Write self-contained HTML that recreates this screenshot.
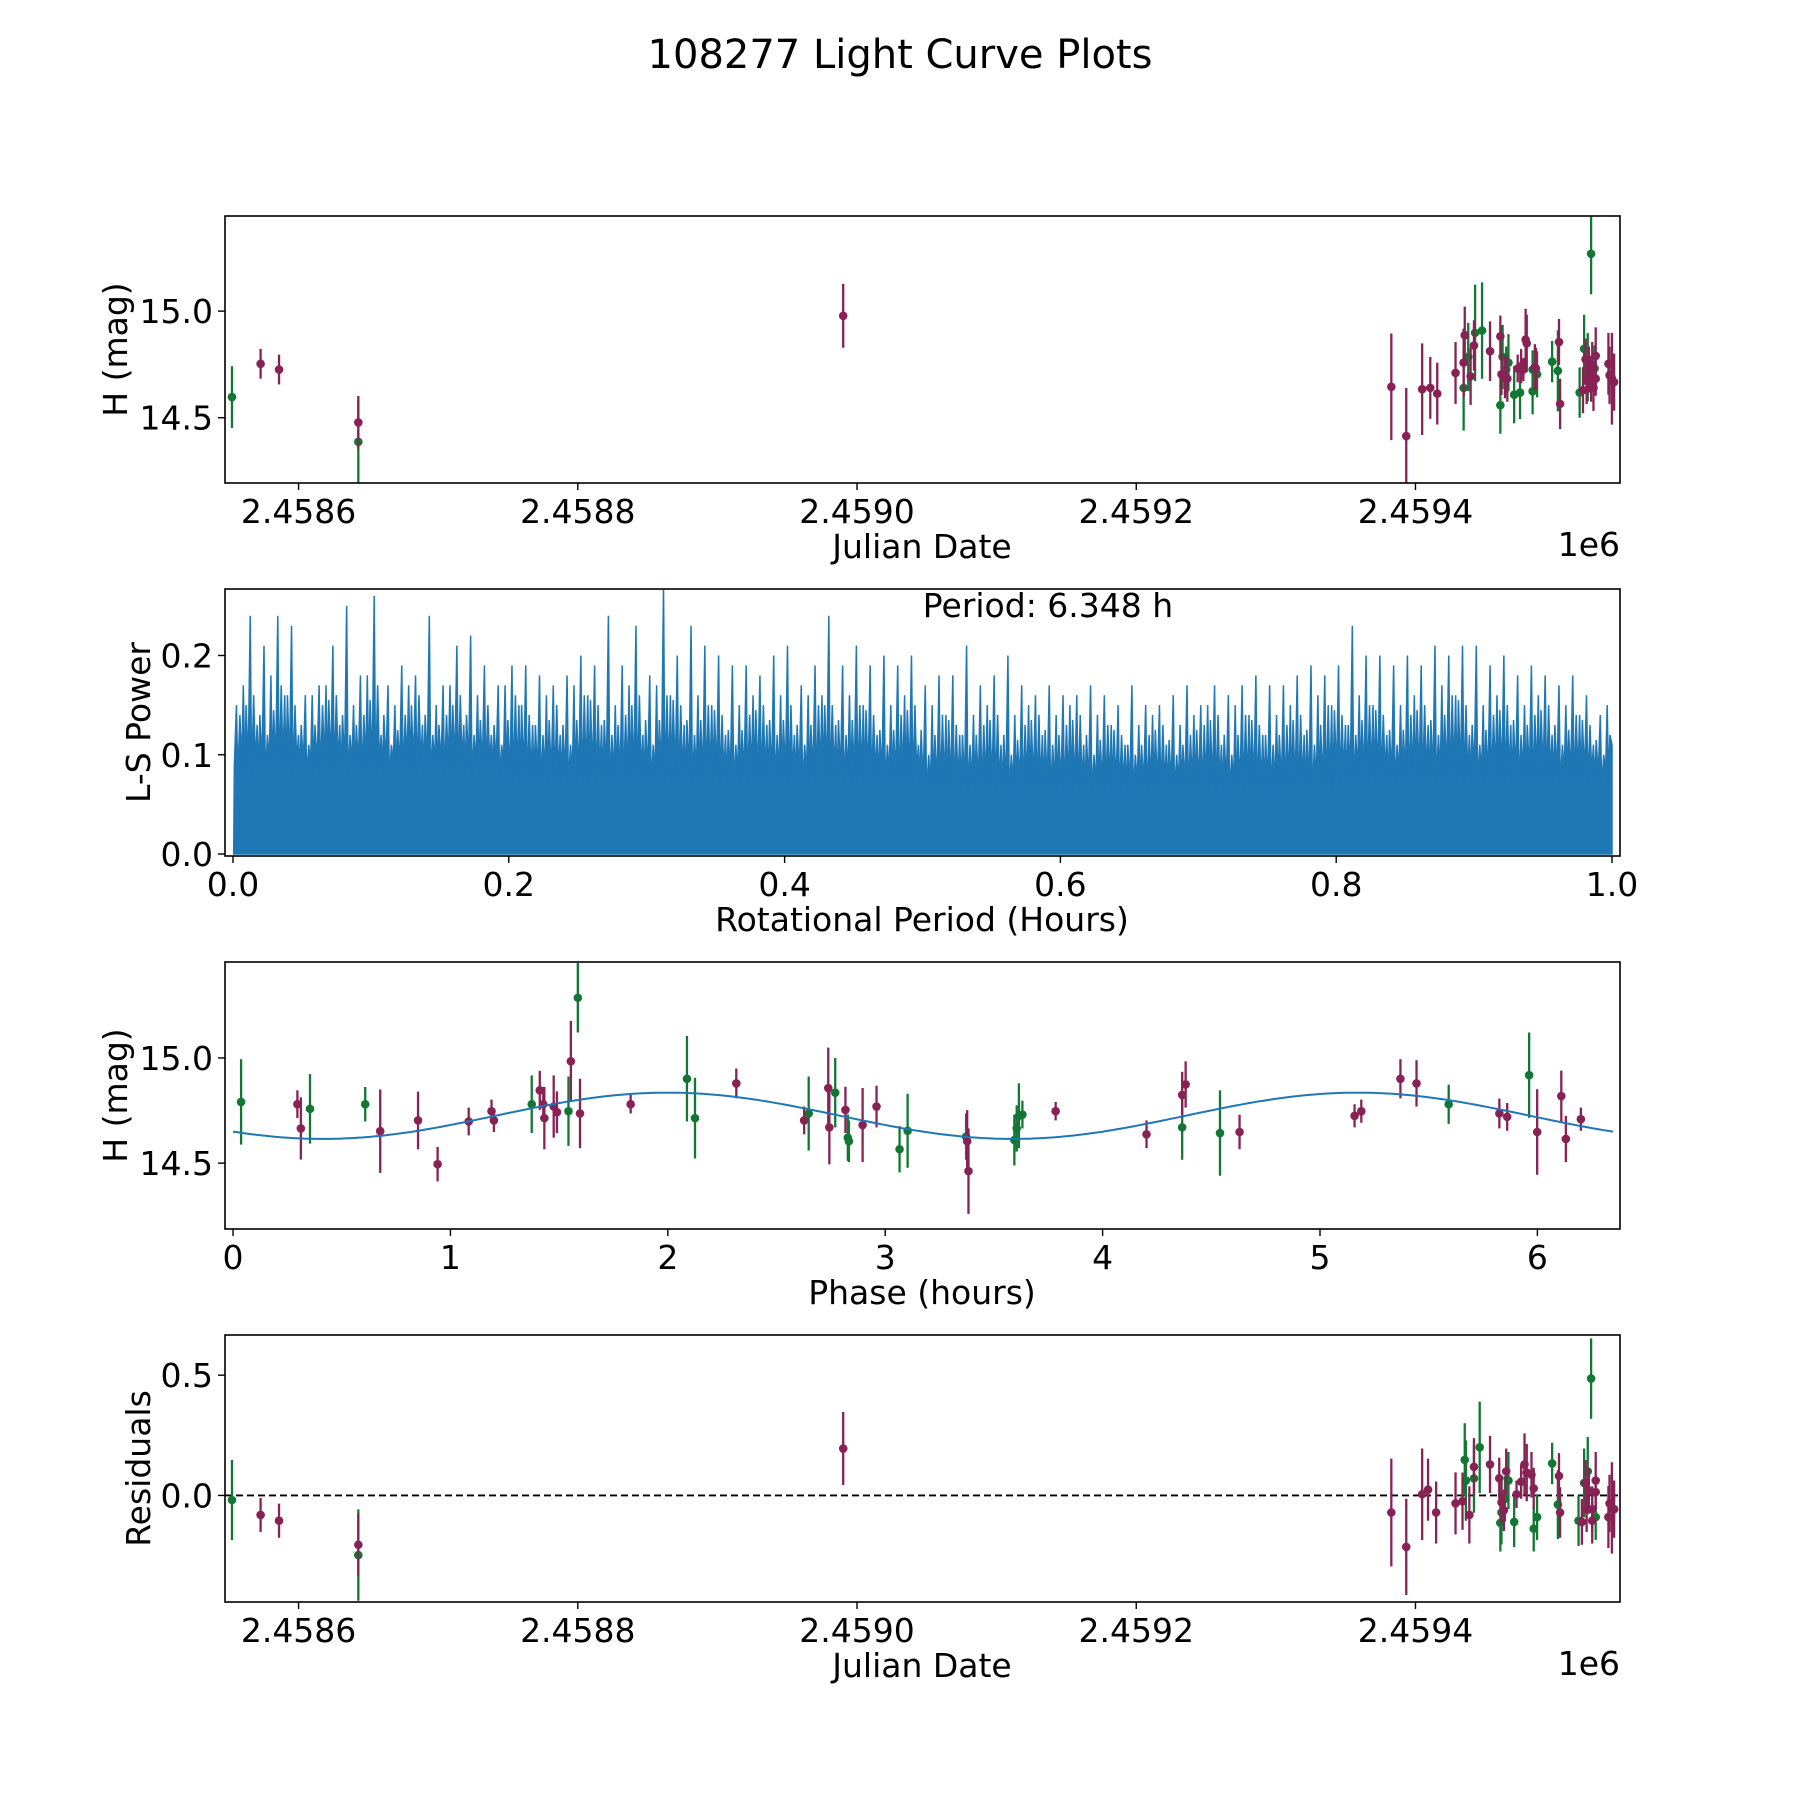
<!DOCTYPE html>
<html><head><meta charset="utf-8"><style>
html,body{margin:0;padding:0;background:#fff;}
svg{display:block;font-family:"DejaVu Sans","Liberation Sans",sans-serif;}
</style></head><body>
<svg id="fig" width="1800" height="1800" viewBox="0 0 1800 1800" xmlns="http://www.w3.org/2000/svg">
<text x="900" y="68" font-size="40" text-anchor="middle">108277 Light Curve Plots</text>
</svg>
<script>
// ---- Panel 1 data (JD - 2458000) ----
const magJDm = [572.8,586.0,642.8,990.1,1382.7,1393.4,1404.8,1410.6,1415.6,1428.7,1434.5,1435.3,1439.5,1441.9,1453.4,1460.8,1461.6,1464.1,1465.8,1473.2,1475.7,1477.3,1478.9,1479.7,1485.5,1486.3,1502.8,1503.6,1520.0,1521.8,1522.6,1524.2,1525.8,1526.6,1527.5,1529.1,1529.1,1538.2,1539.0,1540.7,1542.3];
const magValm = [14.753,14.726,14.478,14.978,14.645,14.414,14.634,14.640,14.613,14.710,14.758,14.887,14.694,14.839,14.812,14.882,14.704,14.688,14.683,14.731,14.742,14.726,14.866,14.849,14.737,14.731,14.855,14.565,14.629,14.774,14.672,14.726,14.683,14.747,14.640,14.790,14.683,14.753,14.699,14.683,14.667];
const magErrm = [0.07,0.07,0.124,0.15,0.25,0.226,0.215,0.145,0.145,0.145,0.16,0.134,0.134,0.118,0.14,0.097,0.097,0.097,0.108,0.065,0.08,0.054,0.145,0.134,0.108,0.097,0.108,0.118,0.108,0.097,0.108,0.108,0.108,0.108,0.108,0.134,0.08,0.145,0.134,0.215,0.134];
const magJDg = [552.3,642.8,1434.5,1437.8,1442.7,1447.7,1460.8,1462.4,1465.0,1466.6,1470.7,1474.9,1483.9,1483.9,1487.1,1497.9,1502.0,1517.6,1520.8,1523.4,1525.8,1528.3];
const magValg = [14.597,14.387,14.640,14.785,14.898,14.909,14.559,14.785,14.726,14.758,14.608,14.618,14.726,14.624,14.704,14.763,14.720,14.618,14.823,14.737,15.269,14.731];
const magErrg = [0.145,0.194,0.2,0.16,0.226,0.226,0.134,0.15,0.108,0.134,0.134,0.124,0.09,0.108,0.108,0.097,0.19,0.118,0.16,0.16,0.19,0.108];
const jdTicks = [2458600,2458800,2459000,2459200,2459400];
const jdTickLabels = ["2.4586","2.4588","2.4590","2.4592","2.4594"];
// ---- Panel 2 periodogram ----
const lsPeaks = [.15,.24,.21,.24,.23,.16,.17,.21,.25,.18,.26,.17,.19,.18,.24,.17,.21,.22,.19,.17,.19,.19,.18,.17,.18,.20,.19,.24,.19,.23,.18,.27,.20,.23,.21,.20,.19,.19,.18,.20,.21,.17,.19,.24,.19,.21,.19,.20,.19,.20,.17,.18,.18,.21,.17,.18,.20,.17,.16,.17,.16,.16,.17,.16,.15,.17,.15,.15,.16,.17,.15,.17,.16,.17,.18,.17,.17,.18,.19,.18,.19,.23,.20,.20,.19,.20,.19,.21,.20,.21,.21,.19,.20,.18,.19,.18,.17,.18,.16,.14];
const lsMids = [.14,.16,.12,.17,.15,.11,.15,.16,.12,.14,.17,.11,.14,.16,.12,.14,.16,.12,.15,.11,.16,.14,.12,.15,.11,.16,.15,.12,.14,.16,.11,.16,.15,.12,.15,.14,.11,.14,.15,.12,.15,.11,.15,.15,.12,.15,.14,.11,.14,.15,.10,.14,.13,.11,.13,.14,.10,.13,.14,.11,.13,.14,.10,.13,.12,.10,.12,.13,.10,.12,.13,.14,.10,.14,.13,.11,.13,.14,.11,.15,.14,.12,.15,.14,.11,.14,.15,.12,.16,.15,.11,.14,.15,.12,.14,.15,.11,.14,.13,.10];
const lsTroughs = [0.09,0.09,0.08,0.08,0.08,0.07,0.07,0.07,0.08,0.08];
const lsXTicks = [0,0.2,0.4,0.6,0.8,1.0];
const lsYTicks = [0,0.1,0.2];
// ---- Panel 3 phased ----
const phM = [0.296,0.312,0.677,0.851,0.941,1.084,1.189,1.200,1.411,1.427,1.432,1.475,1.490,1.554,1.596,1.829,2.315,2.627,2.738,2.743,2.817,2.896,2.960,3.377,3.383,3.784,4.202,4.366,4.382,4.630,5.159,5.190,5.370,5.444,5.825,5.861,5.999,6.110,6.131,6.200];
const phMagM = [14.780,14.665,14.652,14.703,14.495,14.698,14.747,14.703,14.846,14.780,14.714,14.769,14.742,14.984,14.736,14.780,14.879,14.703,14.857,14.670,14.753,14.681,14.769,14.604,14.462,14.747,14.637,14.824,14.874,14.648,14.725,14.747,14.901,14.879,14.736,14.720,14.648,14.819,14.615,14.709];
const phErrM = [.066,.148,.198,.137,.082,.066,.055,.055,.093,.082,.148,.148,.099,.192,.165,.044,.071,.066,.192,.176,.11,.176,.099,.148,.203,.044,.066,.11,.11,.082,.055,.055,.093,.11,.071,.066,.203,.121,.11,.055];
const phG = [0.037,0.354,0.608,1.374,1.543,1.586,2.088,2.125,2.648,2.770,2.828,2.833,3.066,3.103,3.372,3.594,3.605,3.615,3.631,4.366,4.540,5.592,5.962];
const phMagG = [14.791,14.758,14.780,14.780,14.747,15.286,14.901,14.714,14.736,14.835,14.621,14.604,14.566,14.654,14.626,14.610,14.665,14.725,14.731,14.670,14.643,14.780,14.918];
const phErrG = [.203,.165,.082,.137,.165,.165,.203,.192,.176,.165,.11,.099,.11,.176,.11,.121,.11,.154,.066,.154,.203,.093,.203];
const fitCoef = [14.725, 0.11, 2.0]; // mean, amplitude, phase of max (h)
const fitPeriod = 6.348;
const phXTicks = [0,1,2,3,4,5,6];
const magYTicks = [14.5,15.0];
// ---- Panel 4 residuals ----
const resJDm = [572.8,586.0,642.8,990.1,1382.7,1393.4,1404.8,1409.0,1414.8,1428.7,1433.7,1438.6,1441.9,1453.4,1460.0,1461.6,1463.3,1465.0,1472.4,1475.7,1478.1,1479.7,1483.1,1484.7,1502.8,1503.6,1519.2,1521.8,1522.6,1524.2,1526.6,1526.6,1529.1,1529.1,1538.2,1539.0,1540.7,1542.3];
const resValm = [-0.081,-0.105,-0.205,0.195,-0.071,-0.214,0.005,0.024,-0.071,-0.033,-0.024,-0.081,0.119,0.129,0.071,-0.029,-0.062,0.100,0.005,0.057,0.129,0.095,0.086,0.029,0.081,-0.071,-0.110,0.052,-0.057,0.019,-0.057,-0.105,0.062,0.014,-0.090,-0.033,-0.052,-0.057];
const resErrm = [.071,.071,.129,.152,.224,.2,.19,.129,.129,.129,.119,.119,.119,.119,.086,.086,.086,.095,.057,.071,.129,.119,.095,.086,.095,.105,.095,.095,.095,.095,.095,.095,.119,.071,.129,.119,.19,.119];
const resJDg = [552.3,642.8,1435.3,1436.1,1441.9,1446.0,1460.8,1461.6,1464.1,1466.6,1470.7,1484.7,1487.1,1497.9,1502.0,1516.8,1520.8,1523.4,1525.8,1529.1];
const resValg = [-0.019,-0.248,0.148,0.062,0.071,0.200,-0.114,-0.071,-0.014,0.062,-0.110,-0.138,-0.090,0.133,-0.038,-0.105,0.052,0.100,0.486,-0.090];
const resErrg = [.167,.19,.152,.167,.143,.19,.119,.133,.095,.119,.105,.095,.095,.086,.143,.105,.143,.143,.167,.095];
const resYTicks = [0.0,0.5];

const NS="http://www.w3.org/2000/svg";
const svg=document.getElementById('fig');
const MAROON="#882255", GREEN="#117733", BLUE="#1f77b4";
const L=225, R=1620, H=267, FS=33;
const JD0=2458547.3, JD1=2459546.5;
function mk(tag,attrs,parent){const e=document.createElementNS(NS,tag);for(const k in attrs)e.setAttribute(k,attrs[k]);(parent||svg).appendChild(e);return e;}
function lin(d0,d1,r0,r1){return v=>r0+(v-d0)/(d1-d0)*(r1-r0);}

function axesFrame(g,top){
  const r=mk('rect',{x:L,y:top,width:R-L,height:H,fill:'none',stroke:'#000','stroke-width':1.6},g);
  
  
}
function xTicks(g,top,vals,labels,sx,name){
  vals.forEach((v,i)=>{
    const x=sx(v);
    const t=mk('line',{x1:x,x2:x,y1:top+H,y2:top+H+7,stroke:'#000','stroke-width':1.4},g);
    
    
    const tx=mk('text',{x:x,y:top+H+40,'font-size':FS,'text-anchor':'middle'},g);
    tx.textContent=labels[i];
    
    
  });
}
function yTicks(g,top,vals,labels,sy,name){
  vals.forEach((v,i)=>{
    const y=sy(v);
    const t=mk('line',{x1:L-7,x2:L,y1:y,y2:y,stroke:'#000','stroke-width':1.4},g);
    
    
    const tx=mk('text',{x:L-12,y:y+12,'font-size':FS,'text-anchor':'end'},g);
    tx.textContent=labels[i];
    
    
  });
}
function label(g,text,x,y,rot,name){
  const t=mk('text',{x:x,y:y,'font-size':FS,'text-anchor':'middle',transform:rot?`rotate(-90 ${x} ${y})`:''},g);
  t.textContent=text;
  
  
}
function errPoints(g,xs,ys,es,sx,sy,color,name){
  xs.forEach((xv,i)=>{
    const x=sx(xv);
    const e=mk('line',{x1:x,x2:x,y1:sy(ys[i]-es[i]),y2:sy(ys[i]+es[i]),stroke:color,'stroke-width':2.3},g);
    
    
    const c=mk('circle',{cx:x,cy:sy(ys[i]),r:4.3,fill:color},g);
    
    
  });
}
function clip(id,top){
  const d=mk('clipPath',{id:id});
  mk('rect',{x:L,y:top,width:R-L,height:H},d);
}

// Panel 1
(function(){
  const top=216;
  const g=mk('g',{});
  
  
  clip('c1',top);
  const sx=lin(JD0,JD1,L,R), sy=lin(14.194,15.446,top+H,top);
  const pg=mk('g',{'clip-path':'url(#c1)'},g);
  errPoints(pg,magJDg.map(v=>v+2458000),magValg,magErrg,sx,sy,GREEN,'green-filter');
  errPoints(pg,magJDm.map(v=>v+2458000),magValm,magErrm,sx,sy,MAROON,'maroon-filter');
  axesFrame(g,top);
  xTicks(g,top,jdTicks,jdTickLabels,sx,'x-axis');
  yTicks(g,top,magYTicks,magYTicks.map(v=>v.toFixed(1)),sy,'y-axis');
  label(g,'Julian Date',922,558,false,'x-axis-title');
  label(g,'H (mag)',127,top+H/2,true,'y-axis-title');
  const o=mk('text',{x:R,y:556,'font-size':FS,'text-anchor':'end'},g);o.textContent='1e6';
  
  
})();

// Panel 2
(function(){
  const top=589;
  const g=mk('g',{});
  
  
  clip('c2',top);
  const sx=lin(-0.0058,1.0058,L,R), sy=lin(-0.002,0.267,top+H,top);
  const n=lsPeaks.length, w=1/n;
  let pts=[[sx(0.0005),sy(0)]];
  for(let i=0;i<n;i++){
    const x0=0.0005+i*w*0.999, tr=lsTroughs[Math.floor(i/10)];
    const nx=lsMids[(i+1)%n];
    pts.push([sx(x0+w*0.05),sy(tr)]);
    pts.push([sx(x0+w*0.2),sy(lsPeaks[i])]);
    pts.push([sx(x0+w*0.3),sy(tr*0.85)]);
    pts.push([sx(x0+w*0.45),sy(lsMids[i])]);
    pts.push([sx(x0+w*0.58),sy(tr)]);
    pts.push([sx(x0+w*0.7),sy(nx+0.01)]);
    pts.push([sx(x0+w*0.8),sy(tr*0.9)]);
    pts.push([sx(x0+w*0.9),sy((lsMids[i]+nx)/2)]);
  }
  pts.push([sx(1),sy(0.11)],[sx(1),sy(0)]);
  const pg=mk('g',{'clip-path':'url(#c2)'},g);
  const p=mk('polygon',{points:pts.map(p=>p.join(',')).join(' '),fill:BLUE,stroke:BLUE,'stroke-width':1.5,'stroke-linejoin':'miter'},pg);
  
  
  axesFrame(g,top);
  xTicks(g,top,lsXTicks,lsXTicks.map(v=>v.toFixed(1)),sx,'x-axis');
  yTicks(g,top,lsYTicks,lsYTicks.map(v=>v.toFixed(1)),sy,'y-axis');
  label(g,'Rotational Period (Hours)',922,931,false,'x-axis-title');
  label(g,'L-S Power',150,top+H/2,true,'y-axis-title');
  const t=mk('text',{x:1048,y:617,'font-size':FS,'text-anchor':'middle'},g);t.textContent='Period: 6.348 h';
  
  
})();

// Panel 3
(function(){
  const top=962;
  const g=mk('g',{});
  
  
  clip('c3',top);
  const sx=lin(-0.037,6.38,L,R), sy=lin(14.187,15.456,top+H,top);
  const pg=mk('g',{'clip-path':'url(#c3)'},g);
  errPoints(pg,phG,phMagG,phErrG,sx,sy,GREEN,'green-filter');
  errPoints(pg,phM,phMagM,phErrM,sx,sy,MAROON,'maroon-filter');
  let d='';
  for(let i=0;i<=300;i++){
    const t=i/300*fitPeriod;
    const m=fitCoef[0]+fitCoef[1]*Math.cos(2*Math.PI*2*(t-fitCoef[2])/fitPeriod);
    d+=(i?'L':'M')+sx(t).toFixed(1)+','+sy(m).toFixed(1);
  }
  const c=mk('path',{d:d,fill:'none',stroke:BLUE,'stroke-width':2},pg);
  
  
  axesFrame(g,top);
  xTicks(g,top,phXTicks,phXTicks.map(String),sx,'x-axis');
  yTicks(g,top,magYTicks,magYTicks.map(v=>v.toFixed(1)),sy,'y-axis');
  label(g,'Phase (hours)',922,1304,false,'x-axis-title');
  label(g,'H (mag)',127,top+H/2,true,'y-axis-title');
})();

// Panel 4
(function(){
  const top=1335;
  const g=mk('g',{});
  
  
  clip('c4',top);
  const sx=lin(JD0,JD1,L,R), sy=lin(-0.443,0.667,top+H,top);
  const pg=mk('g',{'clip-path':'url(#c4)'},g);
  const z=mk('line',{x1:L,x2:R,y1:sy(0),y2:sy(0),stroke:'#000','stroke-width':1.8,'stroke-dasharray':'7,4'},pg);
  
  
  errPoints(pg,resJDg.map(v=>v+2458000),resValg,resErrg,sx,sy,GREEN,'green-filter');
  errPoints(pg,resJDm.map(v=>v+2458000),resValm,resErrm,sx,sy,MAROON,'maroon-filter');
  axesFrame(g,top);
  xTicks(g,top,jdTicks,jdTickLabels,sx,'x-axis');
  yTicks(g,top,resYTicks,resYTicks.map(v=>v.toFixed(1)),sy,'y-axis');
  label(g,'Julian Date',922,1677,false,'x-axis-title');
  label(g,'Residuals',150,top+H/2,true,'y-axis-title');
  const o=mk('text',{x:R,y:1675,'font-size':FS,'text-anchor':'end'},g);o.textContent='1e6';
  
  
})();
</script>
</body></html>
